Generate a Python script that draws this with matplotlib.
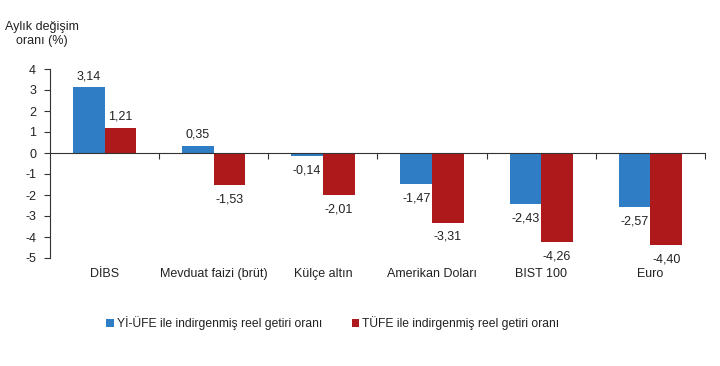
import matplotlib
matplotlib.use("Agg")
import matplotlib.pyplot as plt
import numpy as np

categories = ["DİBS", "Mevduat faizi (brüt)", "Külçe altın", "Amerikan Doları", "BIST 100", "Euro"]
yi_ufe = [3.14, 0.35, -0.14, -1.47, -2.43, -2.57]
tufe = [1.21, -1.53, -2.01, -3.31, -4.26, -4.40]
series_names = ["Yİ-ÜFE ile indirgenmiş reel getiri oranı", "TÜFE ile indirgenmiş reel getiri oranı"]
yticks = list(range(-5, 5))

plt.rcParams['font.family'] = ['Liberation Sans', 'DejaVu Sans']
fs = 9
blue = "#2F7DC4"
red = "#AE1A1C"
tc = "#222222"

fig = plt.figure(figsize=(7.2, 3.66), dpi=100)
ax = fig.add_axes([50/720, 1-258/366, 655/720, (258-69)/366])

x = np.arange(len(categories))
w = 0.29
b1 = ax.bar(x - w/2, yi_ufe, w, color=blue, label=series_names[0])
b2 = ax.bar(x + w/2, tufe, w, color=red, label=series_names[1])

def fmt(v):
    return f"{v:.2f}".replace(".", ",")

for bars, vals in ((b1, yi_ufe), (b2, tufe)):
    for rect, v in zip(bars, vals):
        cx = rect.get_x() + rect.get_width()/2
        if v >= 0:
            ax.annotate(fmt(v), (cx, v), xytext=(0, 3.5), textcoords="offset points",
                        ha="center", va="bottom", fontsize=fs, color=tc)
        else:
            ax.annotate(fmt(v), (cx, v), xytext=(0, -6), textcoords="offset points",
                        ha="center", va="top", fontsize=fs, color=tc)

ax.set_xlim(-0.5, len(categories) - 0.5)
ax.set_ylim(-5, 4)
ax.set_yticks(yticks)
ax.set_yticklabels([str(t) for t in yticks], fontsize=fs, color=tc)
ax.tick_params(axis='y', length=4, width=0.8, color="#333333", pad=6)

ax.spines['top'].set_visible(False)
ax.spines['right'].set_visible(False)
ax.spines['bottom'].set_position(('data', 0))
ax.spines['left'].set_color("#333333")
ax.spines['bottom'].set_color("#333333")
ax.set_xticks(np.arange(len(categories)) + 0.5)
ax.set_xticklabels([])
ax.tick_params(axis='x', length=4, width=0.8, direction='out', color="#333333")

for i, c in enumerate(categories):
    ax.annotate(c, (i, 0), xycoords=('data', 'axes fraction'), xytext=(0, -7.5),
                textcoords="offset points", ha="center", va="top", fontsize=fs, color=tc)

fig.text(42/720, 1-34/366, "Aylık değişim\noranı (%)", ha="center", va="center",
         fontsize=fs, color=tc, linespacing=1.3)

fig.legend(handles=[b1, b2], labels=series_names, loc="center",
           bbox_to_anchor=(333/720, 1-323/366), ncol=2, frameon=False,
           fontsize=fs - 0.3, handlelength=0.6, handleheight=0.6, handletextpad=0.3,
           columnspacing=2.4, labelcolor=tc)

fig.savefig("out.png", dpi=100)
